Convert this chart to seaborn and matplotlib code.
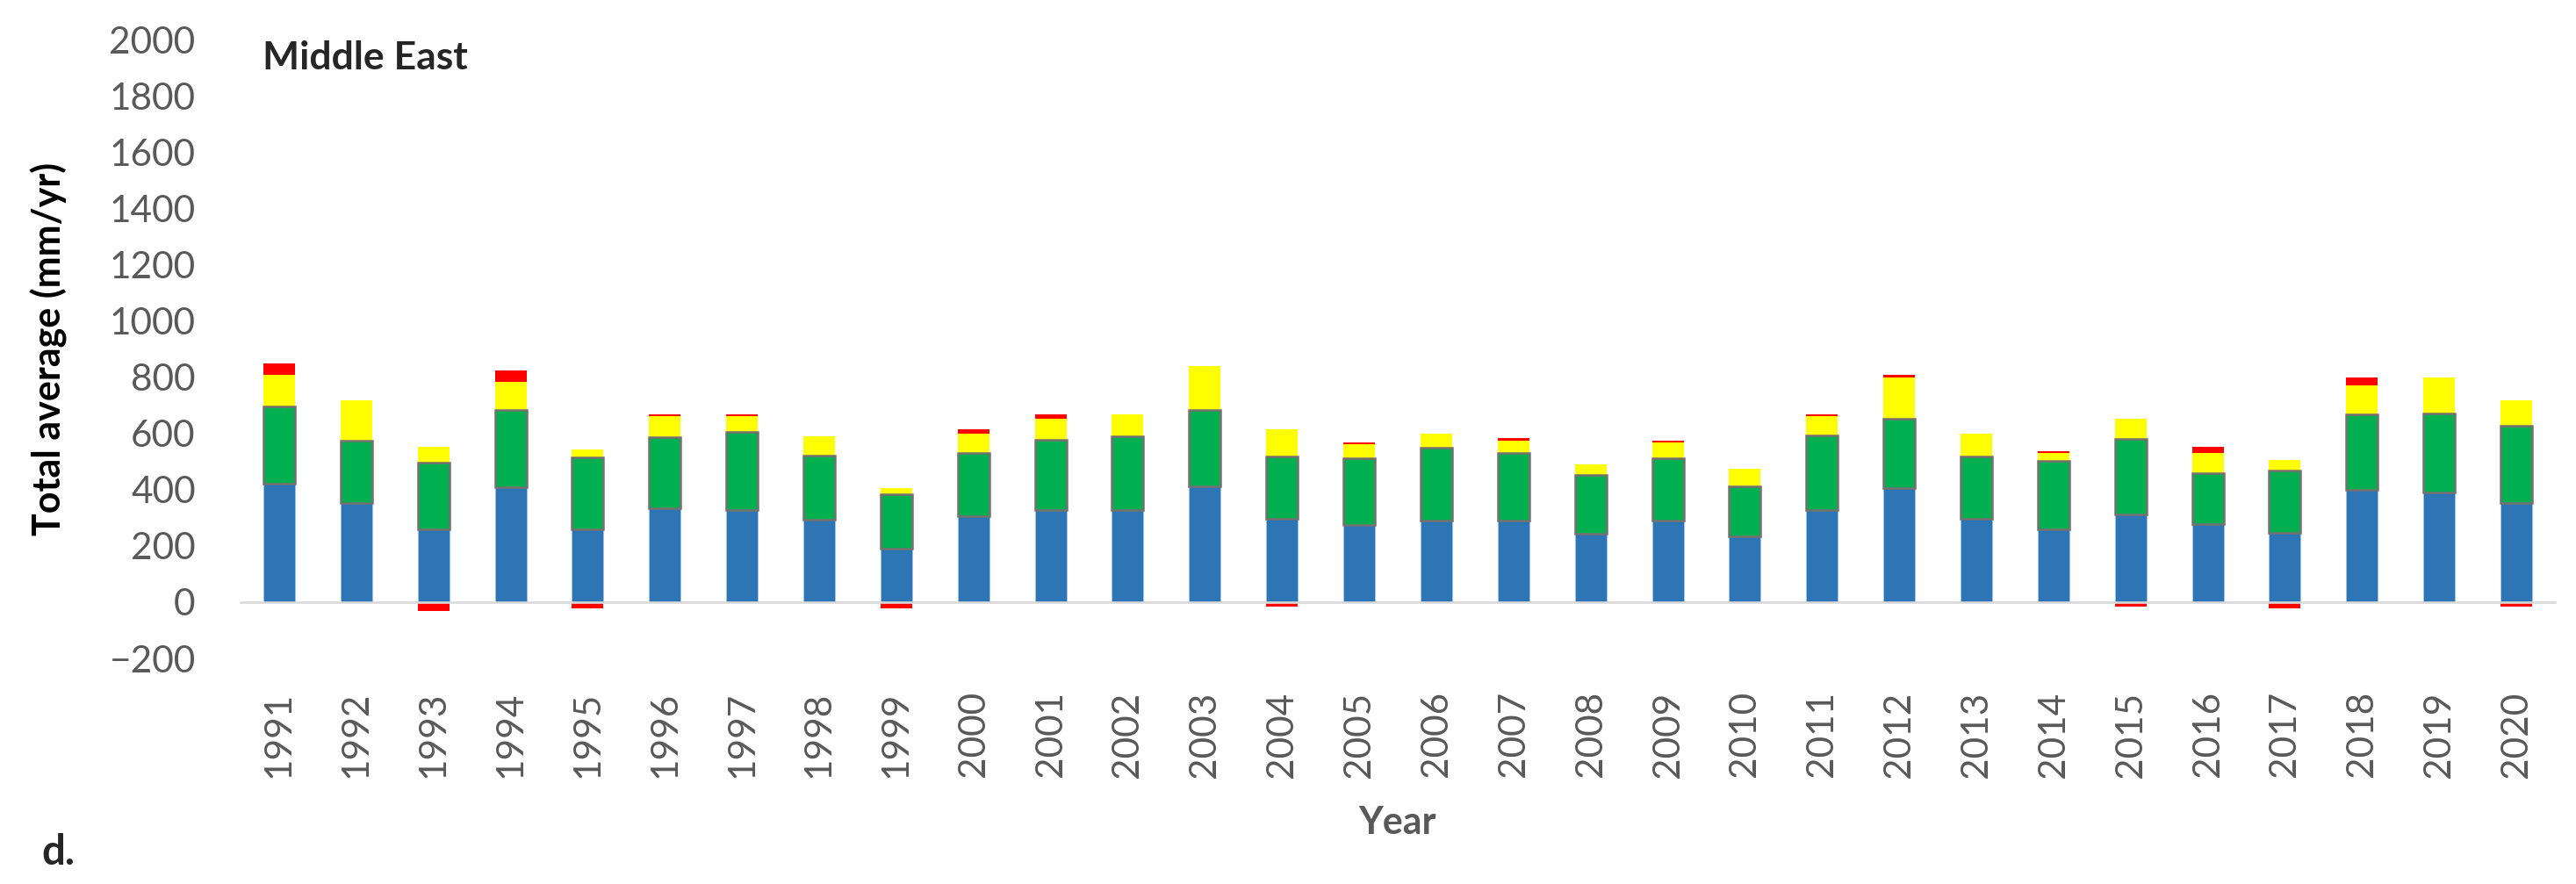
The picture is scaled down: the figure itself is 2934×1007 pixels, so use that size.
import numpy as np
import seaborn as sns
import matplotlib.pyplot as plt
from matplotlib.ticker import FixedLocator, MultipleLocator

years = ["1991", "1992", "1993", "1994", "1995", "1996", "1997", "1998", "1999", "2000",
         "2001", "2002", "2003", "2004", "2005", "2006", "2007", "2008", "2009", "2010",
         "2011", "2012", "2013", "2014", "2015", "2016", "2017", "2018", "2019", "2020"]
blue_part = [422, 351, 260, 408, 260, 335, 328, 292, 190, 307, 328, 328, 413, 297, 274,
             289, 289, 242, 289, 234, 328, 406, 297, 260, 313, 276, 245, 399, 391, 352]
green_part = [273, 224, 235, 274, 256, 250, 276, 229, 195, 224, 250, 260, 271, 220, 238,
              260, 240, 209, 223, 178, 264, 247, 220, 243, 268, 184, 224, 270, 281, 275]
yellow_part = [112, 141, 57, 102, 28, 75, 56, 70, 19, 67, 74, 81, 156, 98, 48,
               50, 46, 39, 55, 62, 68, 147, 82, 26, 72, 69, 36, 100, 128, 89]
red_part = [40, 0, -31, 39, -23, 9, 9, 0, -23, 18, 17, 0, 0, -15, 8,
            0, 8, 0, 8, 0, 9, 9, 0, 7, -15, 24, -23, 31, 0, -15]

BLUE = "#2E75B6"
GREEN = "#00B050"
YELLOW = "#FFFF00"
RED = "#FF0000"
TXT_GREY = "#595959"
LINE_GREY = "#D9D9D9"

sns.set_style("white")
plt.rcParams["font.family"] = ["Lato", "DejaVu Sans"]

b = np.array(blue_part, dtype=float)
g = np.array(green_part, dtype=float)
y = np.array(yellow_part, dtype=float)
r = np.array(red_part, dtype=float)
# negative red goes below zero, positive red sits on top of the stack
red_bottom = np.where(r > 0, b + g + y, 0.0)

W, H = 2934, 1007
fig = plt.figure(figsize=(W / 100, H / 100), dpi=100)
ax = fig.add_axes([274 / W, 1 - 750 / H, 2636 / W, 705 / H])

bar_w = 0.41
common = dict(ax=ax, width=bar_w, saturation=1, errorbar=None)
sns.barplot(x=years, y=blue_part, color=BLUE, edgecolor="#9DC3E6", linewidth=0.6,
            zorder=2, **common)
sns.barplot(x=years, y=yellow_part, bottom=b + g, color=YELLOW, linewidth=0,
            zorder=2, **common)
sns.barplot(x=years, y=red_part, bottom=red_bottom, color=RED, linewidth=0,
            zorder=2.5, **common)
sns.barplot(x=years, y=green_part, bottom=b, color=GREEN, edgecolor="#767171",
            linewidth=1.8, zorder=3, **common)

ax.set_xlim(-0.5, 29.5)
ax.set_ylim(-200, 2000)
ax.yaxis.set_major_locator(MultipleLocator(200))

for side in ["left", "right", "top"]:
    ax.spines[side].set_visible(False)
ax.spines["bottom"].set_position(("data", 0))
ax.spines["bottom"].set_color(LINE_GREY)
ax.spines["bottom"].set_linewidth(1.9)
ax.spines["bottom"].set_zorder(2.7)

# Excel-style tick marks between categories, none at the right end
ax.xaxis.set_minor_locator(FixedLocator(np.arange(-0.5, 29, 1)))
ax.tick_params(axis="x", which="major", length=0, pad=73, labelsize=30.5,
               labelcolor=TXT_GREY, labelrotation=90)
ax.tick_params(axis="x", which="minor", length=13, width=1.6, color=LINE_GREY,
               direction="out")
ax.tick_params(axis="y", length=0, pad=37, labelsize=30.5, labelcolor=TXT_GREY)

ax.set_xlabel("Year", fontsize=31, fontweight="bold", color=TXT_GREY)
ax.xaxis.set_label_coords(0.5, -0.237)
ax.set_ylabel("Total average (mm/yr)", fontsize=31, fontweight="bold", color="black")
ax.yaxis.set_label_coords(-0.0747, 0.5)

fig.text(299 / W, 1 - 46 / H, "Middle East", fontsize=32, fontweight="bold",
         va="top", ha="left")
fig.text(47 / W, 1 - 985 / H, "d.", fontsize=34, fontweight="bold",
         va="baseline", ha="left")

fig.savefig("out.png", dpi=100)
